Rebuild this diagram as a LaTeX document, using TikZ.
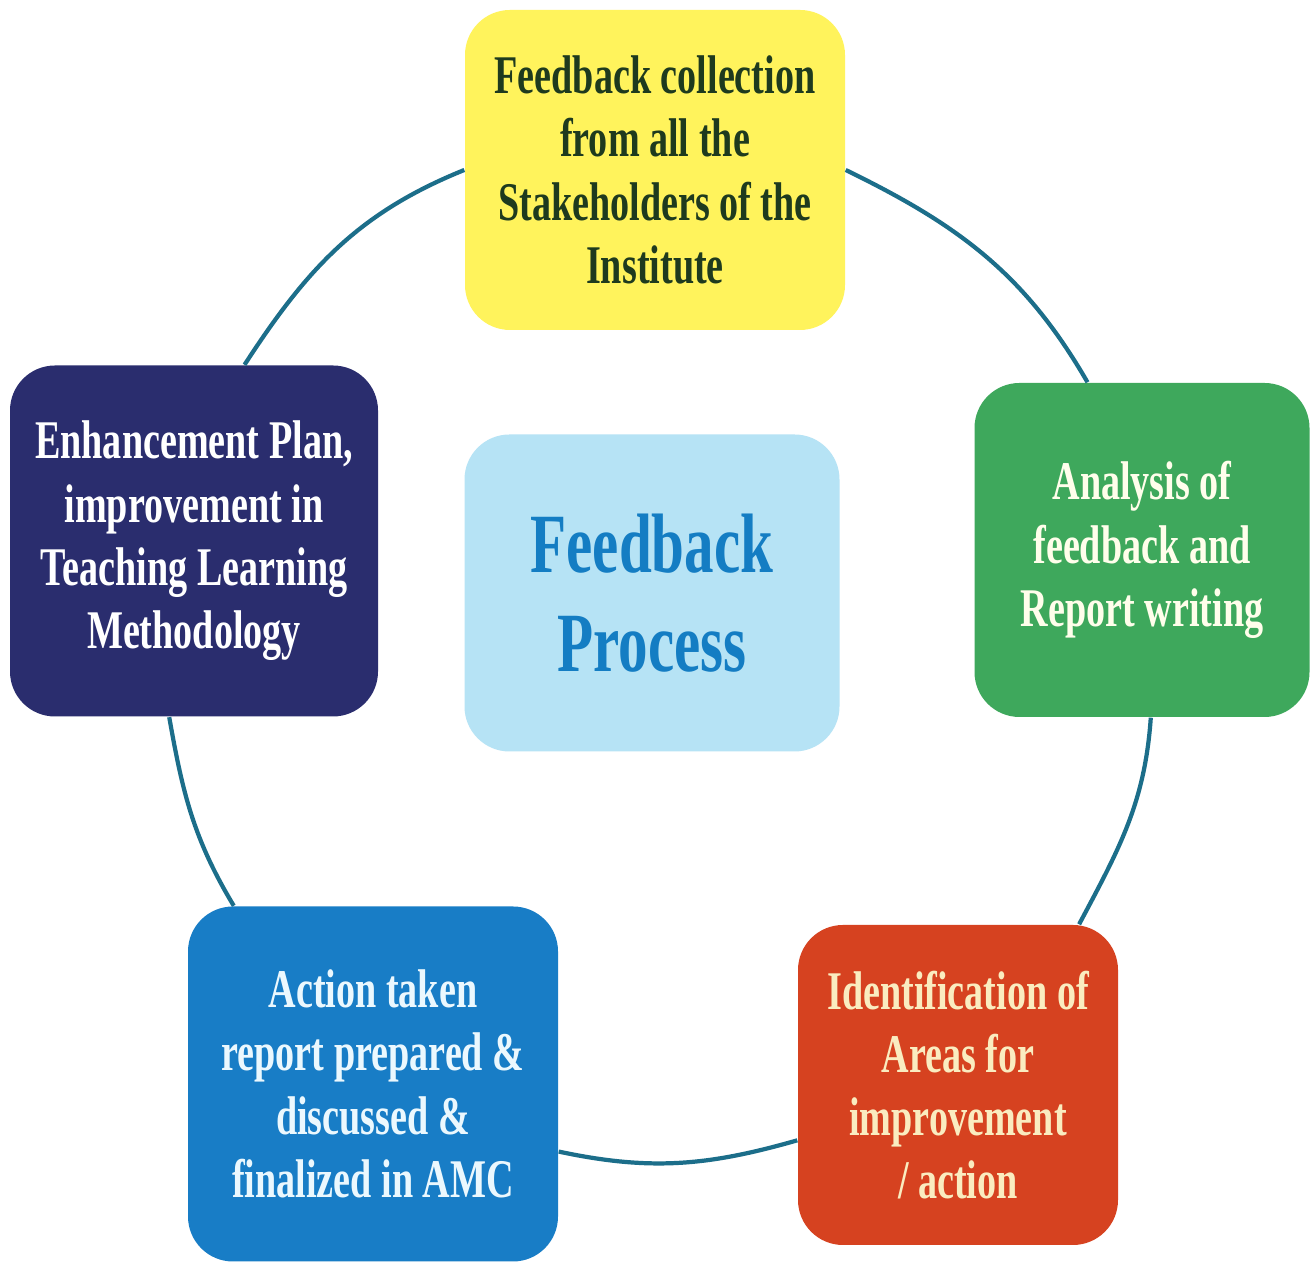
\documentclass[tikz,border=0pt]{standalone}
\usepackage{fontspec}
\setmainfont{Liberation Serif}[FakeStretch=0.7]

\definecolor{cyell}{RGB}{255,243,92}
\definecolor{cyelltxt}{RGB}{30,58,30}
\definecolor{cgreen}{RGB}{62,168,92}
\definecolor{cnavy}{RGB}{42,45,110}
\definecolor{cred}{RGB}{214,66,32}
\definecolor{credtxt}{RGB}{250,236,192}
\definecolor{cblue}{RGB}{24,125,198}
\definecolor{cpale}{RGB}{182,227,245}
\definecolor{cpaletxt}{RGB}{20,125,195}
\definecolor{cring}{RGB}{28,110,138}

\tikzset{
	stage/.style={rounded corners=0.45cm, inner sep=0pt, align=center,
		font=\bfseries\fontsize{15.5}{18}\selectfont},
	ring/.style={draw=cring, line width=1.2pt}
}

\begin{document}
\begin{tikzpicture}
	\fill[white] (0,0) rectangle (13.16,12.62);
	\useasboundingbox (0,0) rectangle (13.16,12.62);

	\node[stage, fill=cyell, text=cyelltxt, minimum width=3.8cm, minimum height=3.2cm] (collect) at (6.55,10.92)
		{Feedback collection\\from all the\\Stakeholders of the\\Institute};
	\node[stage, fill=cgreen, text=white!92!yellow, minimum width=3.35cm, minimum height=3.34cm] (analysis) at (11.42,7.12)
		{Analysis of\\feedback and\\Report writing};
	\node[stage, fill=cred, text=credtxt, minimum width=3.2cm, minimum height=3.2cm] (areas) at (9.58,1.77)
		{Identification of\\Areas for\\improvement\\/ action};
	\node[stage, fill=cblue, text=white!92!cyan, minimum width=3.7cm, minimum height=3.55cm] (action) at (3.73,1.78)
		{Action taken\\report prepared \&\\discussed \&\\finalized in AMC};
	\node[stage, fill=cnavy, text=white, minimum width=3.68cm, minimum height=3.51cm] (enhance) at (1.94,7.21)
		{Enhancement Plan,\\improvement in\\Teaching Learning\\Methodology};
	\node[stage, fill=cpale, text=cpaletxt, minimum width=3.75cm, minimum height=3.17cm,
		font=\bfseries\fontsize{24}{28}\selectfont] (process) at (6.52,6.69)
		{Feedback\\Process};

	\draw[ring] (collect.west) to[out=202,in=57] (enhance.74);
	\draw[ring] (collect.east) to[out=334,in=120] (analysis.108);
	\draw[ring] (enhance.262) to[out=280,in=121] (action.128);
	\draw[ring] (analysis.273) to[out=266,in=62] (areas.53);
	\draw[ring] (action.340) to[out=348,in=196] (areas.199);
\end{tikzpicture}
\end{document}
